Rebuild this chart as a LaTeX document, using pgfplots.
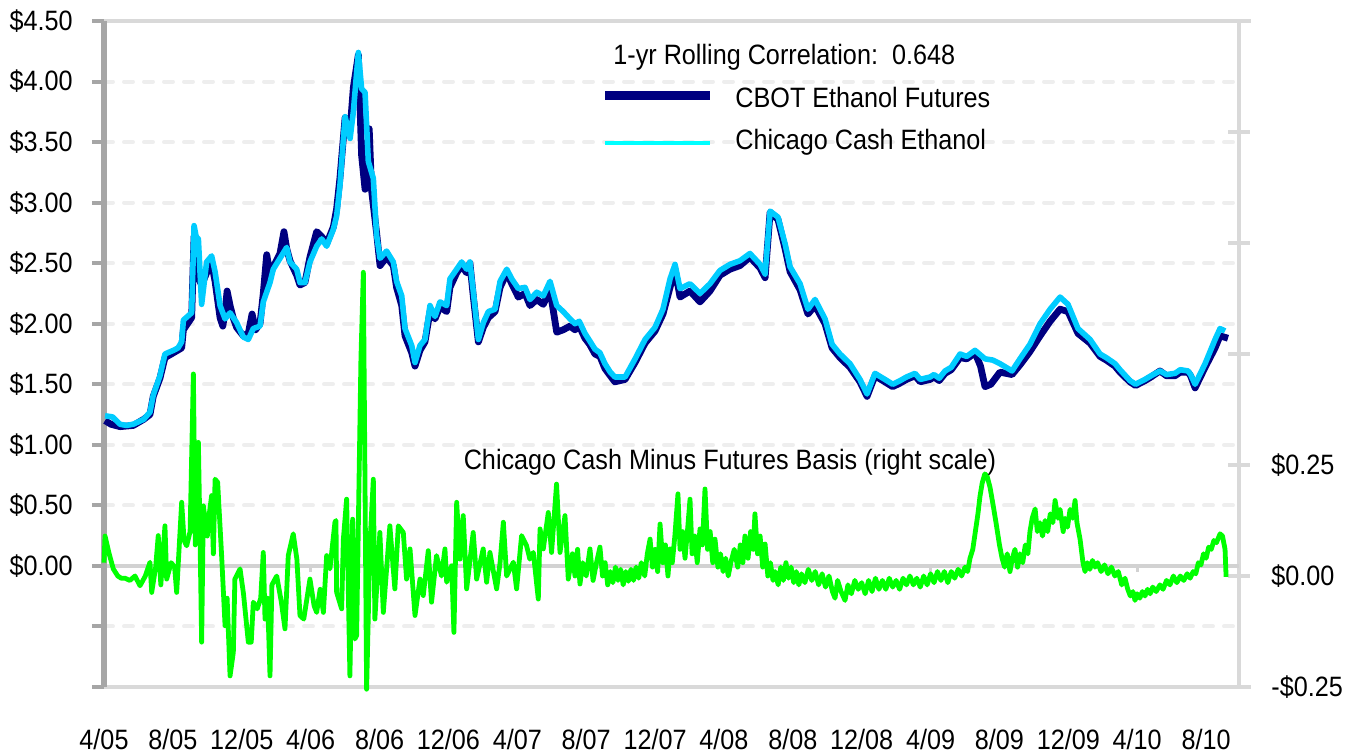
\documentclass[border=0pt]{standalone}
\usepackage{fontspec}
\setmainfont{Liberation Sans}[FakeStretch=0.9]
\usepackage{pgfplots}
\pgfplotsset{compat=1.18}
\usepackage{pgfplotstable}

\definecolor{navyc}{RGB}{0,0,128}
\definecolor{cyanc}{RGB}{0,204,255}
\definecolor{legcyan}{RGB}{0,255,255}
\definecolor{greenc}{RGB}{0,255,0}
\definecolor{axdark}{RGB}{166,166,166}
\definecolor{axlight}{RGB}{217,217,217}
\definecolor{gridc}{RGB}{238,238,238}
\definecolor{zeroc}{RGB}{210,210,210}

% month index: 0 = 4/05
\pgfplotstableread{
m v
0.06 1.24
0.5 1.23
0.93 1.17
1.3 1.16
1.70 1.17
2.3 1.21
2.67 1.27
2.86 1.41
3.25 1.57
3.54 1.75
4.03 1.78
4.30 1.80
4.51 1.85
4.61 2.03
5.09 2.09
5.23 2.81
5.35 2.72
5.48 2.70
5.67 2.16
5.96 2.51
6.25 2.56
6.45 2.43
6.74 2.15
7.03 2.04
7.32 2.09
7.70 2.01
8.09 1.89
8.38 1.87
8.67 1.96
9.06 1.98
9.25 2.18
9.64 2.34
9.83 2.45
10.22 2.54
10.61 2.63
10.80 2.51
11.19 2.45
11.38 2.34
11.67 2.34
11.96 2.51
12.35 2.64
12.64 2.70
12.93 2.64
13.32 2.78
13.51 2.89
13.70 3.14
14.0 3.71
14.29 3.53
14.48 3.75
14.77 4.24
14.96 3.94
15.16 3.91
15.35 3.34
15.64 3.20
15.83 2.73
16.03 2.54
16.41 2.60
16.80 2.51
16.99 2.35
17.29 2.23
17.48 1.96
17.87 1.82
18.06 1.68
18.35 1.82
18.64 1.87
18.93 2.15
19.22 2.06
19.51 2.18
19.90 2.15
20.09 2.37
20.48 2.45
20.77 2.51
21.06 2.45
21.25 2.51
21.45 2.26
21.74 1.87
22.03 2.01
22.32 2.10
22.71 2.12
23.0 2.35
23.39 2.45
23.68 2.37
24.06 2.29
24.45 2.30
24.74 2.20
25.13 2.26
25.51 2.23
25.90 2.35
26.29 2.15
26.67 2.10
27.06 2.04
27.35 2.00
27.6 2.02
27.93 1.92
28.2 1.86
28.51 1.79
28.8 1.76
29.09 1.67
29.4 1.60
29.67 1.56
30.26 1.56
30.84 1.71
31.42 1.87
32.0 1.97
32.46 2.12
32.87 2.37
33.16 2.49
33.45 2.29
34.03 2.33
34.61 2.25
35.19 2.33
35.77 2.44
36.35 2.49
36.93 2.52
37.51 2.58
38.10 2.49
38.39 2.41
38.68 2.93
39.14 2.88
39.55 2.66
39.84 2.47
40.42 2.33
40.88 2.12
41.29 2.20
41.87 2.04
42.28 1.83
42.74 1.75
43.32 1.67
43.90 1.54
44.31 1.42
44.77 1.59
45.0 1.57
45.35 1.54
45.8 1.50
46.23 1.53
46.6 1.56
47.10 1.59
47.4 1.54
47.97 1.56
48.2 1.58
48.5 1.55
48.84 1.61
49.2 1.64
49.71 1.75
50.1 1.73
50.58 1.78
51.16 1.71
51.6 1.70
52.03 1.67
52.73 1.61
53.19 1.71
53.77 1.83
54.36 2.00
54.94 2.12
55.52 2.22
55.98 2.16
56.56 1.96
57.26 1.87
57.84 1.75
58.2 1.72
58.71 1.67
59.0 1.62
59.58 1.53
59.9 1.50
60.45 1.54
60.8 1.57
61.32 1.61
61.7 1.58
62.19 1.59
62.5 1.62
62.95 1.61
63.1 1.58
63.36 1.50
63.94 1.67
64.52 1.87
64.81 1.96
65.10 1.94
}\cash

\pgfplotstableread{
m v
0.06 1.20
0.4 1.17
0.93 1.15
1.70 1.16
2.3 1.21
2.67 1.25
2.86 1.40
3.25 1.55
3.54 1.72
4.03 1.76
4.51 1.80
4.61 1.95
5.09 2.05
5.23 2.72
5.40 2.60
5.48 2.38
5.67 2.32
5.96 2.42
6.25 2.50
6.45 2.35
6.74 2.05
6.9 1.98
7.03 2.10
7.15 2.27
7.32 2.15
7.50 2.05
7.70 1.97
8.09 1.90
8.38 1.92
8.6 2.08
8.8 1.95
9.06 2.00
9.25 2.25
9.45 2.57
9.64 2.40
9.83 2.47
10.22 2.58
10.45 2.76
10.61 2.62
10.80 2.52
11.19 2.40
11.38 2.32
11.67 2.34
11.96 2.55
12.35 2.76
12.64 2.72
12.93 2.66
13.32 2.80
13.51 2.95
13.70 3.20
14.0 3.70
14.29 3.60
14.48 3.95
14.77 4.22
14.96 3.39
15.16 3.11
15.40 3.61
15.54 3.10
15.83 2.75
16.03 2.48
16.41 2.55
16.80 2.48
16.99 2.30
17.29 2.15
17.48 1.90
17.87 1.76
18.06 1.65
18.35 1.78
18.64 1.85
18.93 2.10
19.22 2.04
19.51 2.14
19.90 2.10
20.09 2.30
20.48 2.42
20.77 2.48
21.06 2.42
21.25 2.50
21.45 2.22
21.74 1.85
22.03 1.97
22.32 2.05
22.71 2.10
23.0 2.30
23.39 2.42
23.68 2.33
24.06 2.22
24.45 2.25
24.74 2.15
25.13 2.20
25.51 2.16
25.90 2.28
26.29 1.93
26.67 1.95
27.06 1.98
27.35 1.95
27.6 1.98
27.93 1.88
28.2 1.83
28.51 1.75
28.8 1.73
29.09 1.63
29.4 1.57
29.67 1.52
30.26 1.54
30.84 1.68
31.42 1.84
32.0 1.94
32.46 2.08
32.87 2.30
33.16 2.45
33.45 2.22
34.03 2.27
34.61 2.18
35.19 2.27
35.77 2.40
36.35 2.45
36.93 2.48
37.51 2.55
38.10 2.46
38.39 2.38
38.68 2.92
39.14 2.86
39.55 2.62
39.84 2.43
40.42 2.28
40.88 2.08
41.29 2.15
41.87 2.00
42.28 1.80
42.74 1.72
43.32 1.64
43.90 1.52
44.31 1.40
44.77 1.57
45.0 1.55
45.35 1.52
45.8 1.48
46.23 1.51
46.6 1.54
47.10 1.57
47.4 1.52
47.97 1.54
48.2 1.56
48.5 1.53
48.84 1.59
49.2 1.62
49.71 1.72
50.1 1.71
50.58 1.76
50.9 1.65
51.16 1.48
51.5 1.50
52.03 1.60
52.73 1.58
53.19 1.66
53.77 1.77
54.36 1.90
54.94 2.02
55.52 2.12
55.98 2.10
56.56 1.92
57.26 1.84
57.84 1.73
58.2 1.70
58.71 1.65
59.0 1.60
59.58 1.52
59.9 1.49
60.45 1.53
60.8 1.56
61.32 1.61
61.7 1.57
62.19 1.57
62.5 1.60
62.95 1.60
63.1 1.57
63.36 1.47
63.94 1.64
64.52 1.80
64.81 1.90
65.27 1.88
}\futures

\pgfplotstableread{
m r
0.0 0.03
0.06 0.09
0.3 0.05
0.54 0.016
0.8 0.0
1.0 -0.005
1.22 -0.005
1.5 -0.01
1.8 0.0
2.09 -0.022
2.4 0.0
2.67 0.031
2.77 -0.037
3.0 0.02
3.15 0.091
3.3 -0.02
3.54 0.113
3.64 -0.007
3.9 0.03
4.1 0.02
4.22 -0.037
4.51 0.166
4.65 0.08
4.80 0.068
5.0 0.1
5.19 0.455
5.3 0.07
5.38 0.15
5.48 0.301
5.58 0.08
5.67 -0.149
5.77 0.158
6.0 0.09
6.1 0.136
6.25 0.181
6.35 0.05
6.45 0.218
6.6 0.211
6.83 0.046
7.03 -0.112
7.15 -0.05
7.32 -0.225
7.51 -0.172
7.6 -0.007
7.90 0.016
8.1 -0.04
8.38 -0.149
8.55 -0.149
8.67 -0.059
8.9 -0.074
9.1 -0.05
9.25 0.053
9.35 -0.097
9.5 -0.05
9.64 -0.225
9.75 -0.02
10.03 0.0
10.3 -0.059
10.51 -0.119
10.70 0.046
10.99 0.095
11.2 0.038
11.38 -0.089
11.6 -0.097
11.96 -0.007
12.2 -0.067
12.35 -0.082
12.55 -0.03
12.74 -0.082
12.93 0.046
13.12 0.016
13.41 0.121
13.47 0.125
13.51 -0.037
13.80 -0.074
13.90 0.083
14.09 0.173
14.28 -0.225
14.44 0.128
14.57 -0.142
14.67 -0.134
14.92 0.489
15.06 0.684
15.25 -0.255
15.44 0.068
15.64 0.218
15.73 -0.097
16.02 0.098
16.22 -0.082
16.60 0.113
16.89 -0.029
17.09 0.113
17.38 0.098
17.57 -0.007
17.77 0.061
18.06 -0.089
18.35 -0.007
18.54 -0.044
18.83 0.057
19.02 -0.059
19.31 0.046
19.6 0.0
19.80 0.061
19.90 -0.014
20.19 0.023
20.32 -0.127
20.48 0.166
20.67 0.038
20.86 0.136
21.06 -0.029
21.44 0.098
21.64 -0.007
22.02 0.061
22.22 -0.014
22.41 0.053
22.80 -0.029
23.0 0.03
23.19 0.121
23.38 0.0
23.77 0.031
23.96 -0.029
24.25 0.091
24.54 0.068
24.73 0.038
24.93 0.053
25.22 -0.052
25.32 0.106
25.51 0.061
25.80 0.143
25.99 0.053
26.28 0.207
26.48 0.053
26.77 0.136
26.96 -0.007
27.2 0.05
27.35 0.0
27.5 0.06
27.64 -0.018
27.8 0.03
28.0 0.0
28.22 0.061
28.4 -0.01
28.6 0.03
28.80 0.065
28.95 0.0
29.1 0.03
29.25 -0.02
29.4 0.01
29.55 -0.015
29.7 0.02
29.85 -0.01
30.0 0.015
30.15 -0.02
30.3 0.01
30.45 -0.012
30.6 0.015
30.75 -0.01
30.9 0.02
31.05 -0.005
31.2 0.03
31.4 0.0
31.55 0.05
31.71 0.083
31.85 0.02
32.0 0.06
32.15 0.01
32.29 0.117
32.45 0.03
32.6 0.07
32.75 0.0
32.87 0.061
33.0 0.03
33.15 0.09
33.33 0.185
33.45 0.06
33.6 0.1
33.74 0.04
33.9 0.11
34.03 0.173
34.15 0.05
34.3 0.09
34.45 0.03
34.61 0.106
34.75 0.07
34.90 0.196
35.05 0.06
35.2 0.1
35.35 0.03
35.48 0.083
35.65 0.02
35.8 0.05
35.95 0.01
36.1 0.04
36.25 0.0
36.4 0.03
36.6 0.06
36.8 0.02
36.95 0.07
37.1 0.03
37.22 0.09
37.4 0.04
37.55 0.1
37.70 0.06
37.80 0.14
37.95 0.05
38.1 0.09
38.25 0.02
38.39 0.072
38.55 0.0
38.7 0.03
38.85 -0.01
38.97 0.01
39.15 -0.02
39.3 0.02
39.45 -0.01
39.6 0.03
39.75 -0.005
39.9 0.02
40.05 -0.015
40.2 0.01
40.35 -0.02
40.5 0.005
40.7 -0.015
40.9 0.015
41.1 -0.01
41.3 0.01
41.5 -0.02
41.7 0.005
41.9 -0.025
42.1 0.0
42.3 -0.035
42.45 -0.05
42.6 -0.01
42.8 -0.035
43.03 -0.055
43.2 -0.02
43.4 -0.04
43.6 -0.01
43.8 -0.03
44.0 -0.015
44.2 -0.04
44.4 -0.01
44.6 -0.035
44.8 -0.005
45.0 -0.03
45.2 -0.01
45.4 -0.03
45.6 -0.005
45.8 -0.025
46.0 -0.01
46.2 -0.03
46.4 -0.005
46.6 -0.02
46.8 0.0
47.0 -0.02
47.2 -0.005
47.4 -0.025
47.6 0.0
47.8 -0.02
48.0 0.005
48.2 -0.015
48.4 0.01
48.6 -0.01
48.8 0.01
49.0 -0.015
49.2 0.01
49.4 -0.005
49.6 0.015
49.8 0.0
50.0 0.02
50.15 0.01
50.29 0.04
50.45 0.06
50.6 0.1
50.75 0.14
50.87 0.18
51.0 0.21
51.15 0.23
51.28 0.225
51.45 0.2
51.63 0.16
51.8 0.12
52.0 0.07
52.15 0.04
52.3 0.02
52.45 0.05
52.61 0.01
52.75 0.04
52.9 0.06
53.05 0.02
53.19 0.05
53.35 0.03
53.5 0.07
53.65 0.05
53.77 0.1
53.9 0.13
54.07 0.151
54.2 0.1
54.35 0.12
54.5 0.09
54.65 0.125
54.8 0.1
54.95 0.14
55.1 0.12
55.23 0.17
55.4 0.13
55.52 0.15
55.7 0.1
55.81 0.13
55.95 0.11
56.1 0.15
56.25 0.13
56.39 0.17
56.5 0.12
56.68 0.083
56.85 0.03
56.97 0.01
57.1 0.03
57.25 0.015
57.4 0.035
57.55 0.02
57.7 0.03
57.9 0.01
58.1 0.025
58.3 0.005
58.5 0.02
58.7 0.0
58.9 0.01
59.1 -0.02
59.29 -0.005
59.45 -0.03
59.6 -0.045
59.75 -0.035
59.87 -0.055
60.0 -0.04
60.15 -0.05
60.3 -0.035
60.45 -0.045
60.6 -0.03
60.75 -0.04
60.9 -0.025
61.1 -0.035
61.32 -0.02
61.5 -0.03
61.7 -0.01
61.9 -0.02
62.1 0.0
62.3 -0.015
62.5 0.0
62.7 -0.01
62.9 0.005
63.07 -0.005
63.25 0.01
63.4 0.005
63.55 0.03
63.7 0.025
63.85 0.05
64.0 0.04
64.15 0.065
64.3 0.06
64.45 0.08
64.6 0.075
64.81 0.095
64.95 0.09
65.05 0.07
65.1 0.06
65.16 -0.002
}\basis

\begin{document}
\begin{tikzpicture}
\useasboundingbox (0,0) rectangle (680.5pt,377.5pt);
\begin{axis}[
  at={(52pt,34pt)}, anchor=south west, scale only axis,
  width=567.5pt, height=333pt,
  xmin=0, xmax=65.91, ymin=-1, ymax=4.5,
  clip=false,
  axis line style={draw=none},
  xtick={0,4,8,12,16,20,24,28,32,36,40,44,48,52,56,60,64},
  xticklabels={4/05,8/05,12/05,4/06,8/06,12/06,4/07,8/07,12/07,4/08,8/08,12/08,4/09,8/09,12/09,4/10,8/10},
  ytick={-1,-0.5,0,0.5,1,1.5,2,2.5,3,3.5,4,4.5},
  yticklabels={{},{},\$0.00,\$0.50,\$1.00,\$1.50,\$2.00,\$2.50,\$3.00,\$3.50,\$4.00,\$4.50},
  major tick length=0pt, tick style={draw=none},
  ymajorgrids,
  major grid style={gridc, line width=2pt, dash pattern=on 4.5pt off 5.5pt, line cap=round},
  xticklabel style={anchor=center, yshift=-26pt, inner sep=0pt},
  yticklabel style={anchor=east, xshift=-15.5pt, inner sep=0pt},
  tick label style={font=\fontsize{14}{16}\selectfont},
]
% frame
\draw[axlight, line width=2pt] ([xshift=-5pt]axis cs:0,4.5) -- ([xshift=6pt]axis cs:65.91,4.5);
\draw[axlight, line width=2pt] ([xshift=-5pt]axis cs:0,-1) -- ([xshift=6pt]axis cs:65.91,-1);
\draw[axlight, line width=2pt] (axis cs:65.91,-1) -- (axis cs:65.91,4.5);
\draw[zeroc, line width=2pt] (axis cs:0,0) -- (axis cs:65.91,0);
\pgfplotsinvokeforeach{12,24,36,48,60}{\draw[zeroc, line width=1.5pt] (axis cs:#1,0) -- ([yshift=-3pt]axis cs:#1,0);}
\pgfplotsinvokeforeach{-1,-0.5,0,0.5,1,1.5,2,2.5,3,3.5,4,4.5}{\draw[axdark, line width=2pt] ([xshift=-6pt]axis cs:0,#1) -- (axis cs:0,#1);}
\draw[axdark, line width=3pt] (axis cs:0,-1) -- (axis cs:0,4.5);
\addplot[navyc, line width=3.4pt, line join=round] table[x=m, y=v] {\futures};
\addplot[cyanc, line width=2.8pt, line join=round] table[x=m, y=v] {\cash};
\end{axis}

\begin{axis}[
  at={(52pt,34pt)}, anchor=south west, scale only axis,
  width=567.5pt, height=333pt,
  xmin=0, xmax=65.91, ymin=-0.25, ymax=1.25,
  clip=false,
  axis x line=none, axis y line*=right,
  axis line style={draw=none},
  ytick={-0.25,0,0.25,0.5,0.75,1,1.25},
  yticklabels={-\$0.25,\$0.00,\$0.25,{},{},{},{}},
  major tick length=0pt, tick style={draw=none},
  yticklabel style={anchor=west, xshift=16pt, inner sep=0pt},
  tick label style={font=\fontsize{14}{16}\selectfont},
]
\pgfplotsinvokeforeach{-0.25,0,0.25,0.5,0.75,1}{\draw[axlight, line width=2pt] ([xshift=-5.5pt]axis cs:65.91,#1) -- ([xshift=5.5pt]axis cs:65.91,#1);}
\addplot[greenc, line width=2.4pt, line join=round] table[x=m, y=r] {\basis};
\end{axis}

% legend and annotations
\node[anchor=base west, inner sep=0pt, font=\fontsize{14}{16}\selectfont] at (306.5pt,345pt) {1-yr Rolling Correlation:\ \ 0.648};
\draw[navyc, line width=4.5pt] (302.5pt,329.75pt) -- (355pt,329.75pt);
\node[anchor=base west, inner sep=0pt, font=\fontsize{14}{16}\selectfont] at (367.5pt,323.5pt) {CBOT Ethanol Futures};
\draw[legcyan, line width=2pt] (302.5pt,306pt) -- (355pt,306pt);
\node[anchor=base west, inner sep=0pt, font=\fontsize{14}{16}\selectfont] at (367.5pt,302.5pt) {Chicago Cash Ethanol};
\node[anchor=base west, inner sep=0pt, font=\fontsize{14}{16}\selectfont] at (231.7pt,142.5pt) {Chicago Cash Minus Futures Basis (right scale)};
\end{tikzpicture}
\end{document}
